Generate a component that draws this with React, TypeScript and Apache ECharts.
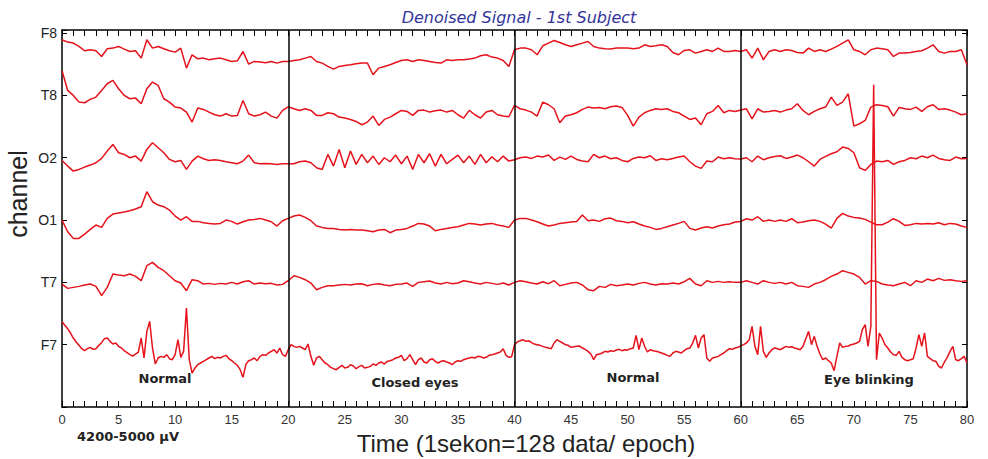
import { useEffect, useRef } from "react";
import * as echarts from "echarts";

// EEG recording, 80 s, four 20 s epochs. Values are deviations (µV) from each channel's baseline.
const EPOCH_BOUNDS = [20, 40, 60];
const EPOCH_LABELS = ["Normal", "Closed eyes", "Normal", "Eye blinking"];
const X_TICK_LABELS = [0, 5, 10, 15, 20, 25, 30, 35, 40, 45, 50, 55, 60, 65, 70, 75, 80];
const CHANNEL_NAMES = ["F7", "T7", "O1", "O2", "T8", "F8"]; // bottom to top
const CHANNEL_GAP = 187; // µV between neighbouring baselines
const STEP = 0.5; // s between samples
const STEP_F7 = 0.25;

const F8_UV = [
  -20, -27, -30, -40, -53, -50, -53, -70, -47, -45,
  -40, -48, -55, -53, -75, -20, -45, -40, -47, -53,
  -57, -45, -105, -65, -77, -75, -80, -77, -75, -80,
  -85, -83, -55, -93, -85, -87, -89, -85, -90, -85,
  -85, -82, -80, -75, -70, -85, -90, -100, -108, -100,
  -97, -95, -92, -90, -90, -125, -105, -100, -95, -88,
  -82, -80, -85, -80, -82, -85, -88, -90, -80, -82,
  -80, -80, -78, -75, -68, -65, -72, -75, -82, -100,
  -50, -45, -45, -50, -65, -38, -30, -22, -28, -35,
  -40, -35, -30, -25, -40, -45, -47, -48, -45, -45,
  -45, -47, -45, -35, -40, -38, -35, -40, -58, -65,
  -52, -50, -60, -55, -50, -55, -45, -55, -55, -52,
  -55, -50, -75, -45, -80, -55, -50, -55, -50, -52,
  -58, -60, -45, -55, -50, -55, -48, -40, -30, -20,
  -50, -55, -65, -50, -45, -47, -50, -70, -60, -60,
  -58, -55, -53, -45, -35, -55, -60, -55, -55, -50,
  -95,
];

const T8_UV = [
  75, 15, 0, -20, -22, -12, -5, 15, 35, 45,
  20, 0, -10, -8, -25, 20, 40, 30, -10, -20,
  -35, -38, -50, -80, -38, -42, -50, -58, -62, -55,
  -62, -60, -15, -55, -62, -58, -50, -62, -68, -45,
  -34, -40, -45, -40, -45, -60, -60, -52, -55, -65,
  -68, -72, -78, -88, -80, -62, -90, -72, -65, -55,
  -45, -48, -60, -45, -44, -50, -46, -44, -50, -45,
  -58, -68, -45, -58, -68, -50, -45, -58, -62, -64,
  -30, -40, -44, -50, -62, -20, -28, -40, -82, -62,
  -58, -52, -42, -35, -38, -36, -40, -34, -32, -36,
  -60, -92, -65, -52, -45, -40, -42, -40, -48, -52,
  -62, -72, -68, -88, -55, -48, -30, -52, -45, -48,
  -44, -40, -70, -40, -50, -48, -45, -50, -44, -40,
  -25, -45, -58, -48, -40, -35, -5, -30, -20, 5,
  -92, -85, -75, -35, -28, -30, -34, -62, -36, -40,
  -42, -35, -48, -34, -28, -42, -40, -44, -50, -58,
  -55,
];

const O2_UV = [
  -8, -25, -40, -35, -28, -22, -15, -2, 20, 40,
  15, 10, 0, 5, -10, 25, 45, 30, 15, -5,
  -12, -8, -35, -10, 5, -3, -8, -6, -8, -12,
  -15, -18, -10, 8, -15, -18, -17, -18, -20, -18,
  -18, -18, -12, -10, -15, -30, -35, 10, -25, 25,
  -30, 20, -20, 10, -15, 5, -20, 0, -12, 8,
  -18, 5, -35, 10, -15, 12, -25, 10, -18, -5,
  8, -15, 5, -20, 10, -15, 3, -12, 5, -10,
  -6, 0, 2, -2, 5, 2, 8, -8, 2, -5,
  5, -5, -10, -12, 10, 0, 5, -3, 0, -8,
  -12, -2, 2, 0, 6, -8, -3, -6, -2, 2,
  5, -12, -25, -32, -10, -12, 2, -3, 0, -3,
  -4, 0, -12, 5, -6, 0, 4, 6, -2, 2,
  8, 0, -12, -25, -5, 4, 12, 18, 32, 28,
  15, -30, -38, -20, -10, -12, -8, -20, -12, -8,
  0, -3, 5, 0, 8, -2, -6, -8, 2, -3,
  -2,
];

const O1_UV = [
  0, -35, -55, -55, -42, -28, -15, -22, 5, 18,
  21, 24, 28, 33, 40, 85, 55, 45, 40, 30,
  12, 0, 10, -4, -4, -8, -10, -12, -10, 0,
  -4, -12, -5, 0, 2, 5, 0, -5, -18, -2,
  5, 12, 15, 8, -2, -18, -22, -25, -25, -28,
  -30, -28, -30, -30, -32, -35, -30, -28, -38, -30,
  -28, -25, -18, -10, -12, -18, -32, -28, -25, -22,
  -20, -15, -10, -12, -15, -12, -10, -15, -18, -22,
  0, 5, 5, 0, -5, -12, -18, -15, -10, -8,
  -6, -4, 15, -2, 0, -4, 4, 6, -2, -4,
  -8, -5, -12, -18, -22, -28, -25, -20, -15, -10,
  -4, -25, -30, -24, -20, -24, -18, -14, -12, -6,
  -4, 4, 0, 10, -4, 0, -4, 0, -4, 4,
  -8, -6, -2, 0, -4, -12, -24, 5, 20, 12,
  8, 6, 2, -6, -14, -14, -6, 4, -4, -16,
  -14, -10, -12, -10, -12, -8, -14, -10, -12, -18,
  -22,
];

const T7_UV = [
  -5, -18, -15, -12, -8, -5, -12, -40, -15, 25,
  22, 20, 25, 18, 5, 50, 60, 45, 35, 20,
  5, -2, -25, 8, 5, -5, -3, -6, -3, -5,
  0, -5, 2, 5, -5, -2, -4, -3, -8, -6,
  5, 20, 15, 8, -2, -22, -15, -10, -10, -8,
  -6, -8, -5, -4, -10, -6, -4, -8, -10, -6,
  -5, -2, -12, 0, 2, 4, -2, -5, 0, -4,
  -2, 5, 2, -2, -5, 0, -3, -6, -2, -8,
  0, 5, 2, -2, -5, 2, -4, 5, -10, -6,
  -2, 0, -8, -22, -25, -12, -15, -6, -10, -8,
  -5, -8, -3, 0, -5, -8, -4, -5, -2, -5,
  2, 12, -5, -10, 5, 0, 3, 0, 2, 0,
  0, 5, 0, -5, 5, 0, -3, 0, -5, 0,
  -10, -12, -15, -5, 0, 8, 18, 25, 35, 30,
  25, 15, -5, 5, 3, -5, -8, -10, -5, 0,
  -10, 5, 0, 10, 5, 12, 6, 8, 5, 3,
  5,
];

// F7 is sampled twice as densely to keep its sharp artefacts.
const F7_UV = [
  70, 58, 48, 35, 20, 8, -2, -12, -18, -12,
  -8, -14, -12, -2, 6, 18, 20, 10, 2, 5,
  -5, -10, -18, -24, -30, -34, -28, -22, 20, -40,
  40, 70, -10, -58, -40, -35, -38, -30, -42, -45,
  -30, 15, -38, -20, 110, -45, -85, -70, -60, -55,
  -50, -45, -40, -35, -42, -38, -40, -35, -32, -42,
  -48, -55, -62, -75, -98, -60, -48, -45, -40, -48,
  -35, -30, -32, -25, -20, -15, -25, -10, -30, -35,
  -15, 0, -5, -8, -5, -10, -15, 2, -35, -62,
  -40, -35, -45, -55, -60, -68, -72, -75, -68, -62,
  -70, -68, -60, -64, -72, -66, -62, -70, -68, -65,
  -58, -62, -55, -52, -58, -50, -48, -45, -40, -38,
  -32, -48, -42, -30, -45, -60, -45, -40, -52, -55,
  -45, -42, -50, -55, -50, -48, -52, -55, -60, -52,
  -48, -50, -45, -42, -40, -38, -40, -35, -36, -40,
  -38, -32, -30, -28, -25, -22, -12, -32, -38, -36,
  0, 8, 12, 15, 10, 12, 6, 2, 0, -2,
  -5, -8, -10, -12, 5, 15, 10, 5, 0, -2,
  -8, -6, -5, -4, -10, -14, -20, -28, -45, -30,
  -28, -25, -20, -22, -18, -20, -16, -14, -18, -15,
  -16, -12, -10, 28, -15, 20, -5, -22, -15, -18,
  -20, -22, -25, -28, -32, -35, -25, -20, -22, -25,
  -18, -12, -10, 5, 28, -10, 20, 30, -40, -50,
  -40, -38, -35, -30, -25, -18, -12, -14, -10, -8,
  -4, 0, 5, 15, 55, -5, -30, 55, -20, -38,
  -25, -15, -10, -12, -15, -10, -5, -8, -6, -10,
  -12, -15, -5, 18, 40, 0, 25, -5, -28, -45,
  -40, -48, -55, -78, -35, 5, -8, -5, -4, 0,
  2, 5, 10, 45, 60, -5, 55, 780, -45, 35,
  20, 0, -10, -22, -30, -32, -20, -38, -45, -48,
  -45, -42, -10, 30, -5, 35, -35, -42, -48, -50,
  -65, -70, -52, -38, -20, -5, -45, -48, -42, -35,
  -55,
];

const CHANNEL_SIGNALS = [
  { name: "F7", step: STEP_F7, values: F7_UV },
  { name: "T7", step: STEP, values: T7_UV },
  { name: "O1", step: STEP, values: O1_UV },
  { name: "O2", step: STEP, values: O2_UV },
  { name: "T8", step: STEP, values: T8_UV },
  { name: "F8", step: STEP, values: F8_UV },
];

const EPOCH_LABEL_POS = [
  { x: 165, y: 378 },
  { x: 415, y: 382 },
  { x: 633, y: 377 },
  { x: 869, y: 379 },
];

const SANS = "Liberation Sans, Arial, sans-serif";
const BOLD = "DejaVu Sans, sans-serif";

export default function App() {
  const ref = useRef<HTMLDivElement>(null);

  useEffect(() => {
    if (!ref.current) return;
    const chart = echarts.init(ref.current, null, { renderer: "svg" });

    const axisLine = { show: true, onZero: false, lineStyle: { color: "#000", width: 1.5 } };
    const tick = { show: true, inside: true, length: 6, lineStyle: { color: "#000", width: 1 } };

    const series: any[] = CHANNEL_SIGNALS.map((ch) => {
      const slot = CHANNEL_NAMES.indexOf(ch.name) + 1;
      return {
        name: ch.name,
        type: "line",
        showSymbol: false,
        symbol: "none",
        data: ch.values.map((v, i) => [i * ch.step, slot + v / CHANNEL_GAP]),
        lineStyle: { color: "#e5121b", width: 1.5 },
        z: 3,
      };
    });

    series.push({
      type: "line",
      data: [],
      silent: true,
      markLine: {
        silent: true,
        symbol: ["none", "none"],
        label: { show: false },
        lineStyle: { color: "#000", width: 1.5, type: "solid" },
        data: EPOCH_BOUNDS.map((x) => ({ xAxis: x })),
      },
      z: 4,
    });

    const option: any = {
      animation: false,
      backgroundColor: "#fff",
      grid: { left: 62, right: 21, top: 30, bottom: 52 },
      xAxis: [
        {
          type: "value",
          min: 0,
          max: 80,
          interval: 1,
          position: "bottom",
          axisLine,
          axisTick: tick,
          splitLine: { show: false },
          axisLabel: {
            interval: 0,
            margin: 6,
            color: "#333",
            fontSize: 13,
            lineHeight: 13,
            fontFamily: SANS,
            formatter: (v: number) => (X_TICK_LABELS.includes(v) ? String(v) : ""),
          },
        },
        {
          type: "value",
          min: 0,
          max: 80,
          interval: 1,
          position: "top",
          axisLine,
          axisTick: tick,
          splitLine: { show: false },
          axisLabel: { show: false },
        },
      ],
      yAxis: [
        {
          type: "value",
          min: 0,
          max: 6.05,
          interval: 1,
          position: "left",
          axisLine,
          axisTick: { ...tick, length: 5 },
          splitLine: { show: false },
          axisLabel: {
            margin: 5,
            color: "#222",
            fontSize: 14,
            fontFamily: SANS,
            formatter: (v: number) =>
              Number.isInteger(v) && v >= 1 && v <= 6 ? CHANNEL_NAMES[v - 1] : "",
          },
        },
        {
          type: "value",
          min: 0,
          max: 6.05,
          interval: 1,
          position: "right",
          axisLine,
          axisTick: { ...tick, length: 5 },
          splitLine: { show: false },
          axisLabel: { show: false },
        },
      ],
      series,
      graphic: [
        {
          type: "text",
          x: 519,
          y: 17,
          style: {
            text: "Denoised Signal - 1st Subject",
            fill: "#34349a",
            font: "italic 16px DejaVu Sans, sans-serif",
            textAlign: "center",
            textVerticalAlign: "middle",
          },
        },
        {
          type: "text",
          x: 18,
          y: 194,
          rotation: Math.PI / 2,
          style: {
            text: "channel",
            fill: "#222",
            font: `25px ${SANS}`,
            textAlign: "center",
            textVerticalAlign: "middle",
          },
        },
        {
          type: "text",
          x: 526,
          y: 443,
          style: {
            text: "Time (1sekon=128 data/ epoch)",
            fill: "#222",
            font: `24px ${SANS}`,
            lineHeight: 24,
            textAlign: "center",
            textVerticalAlign: "middle",
          },
        },
        {
          type: "text",
          x: 128,
          y: 436,
          style: {
            text: "4200-5000 µV",
            fill: "#222",
            font: `bold 13px ${BOLD}`,
            lineHeight: 13,
            textAlign: "center",
            textVerticalAlign: "middle",
          },
        },
        ...EPOCH_LABELS.map((t, i) => ({
          type: "text",
          x: EPOCH_LABEL_POS[i].x,
          y: EPOCH_LABEL_POS[i].y,
          z: 10,
          style: {
            text: t,
            fill: "#222",
            font: `bold 13px ${BOLD}`,
            textAlign: "center",
            textVerticalAlign: "middle",
          },
        })),
      ],
    };

    chart.setOption(option);
    return () => chart.dispose();
  }, []);

  return (
    <div
      ref={ref}
      style={{ position: "fixed", left: 0, top: 0, width: 988, height: 459, background: "#fff" }}
    />
  );
}
